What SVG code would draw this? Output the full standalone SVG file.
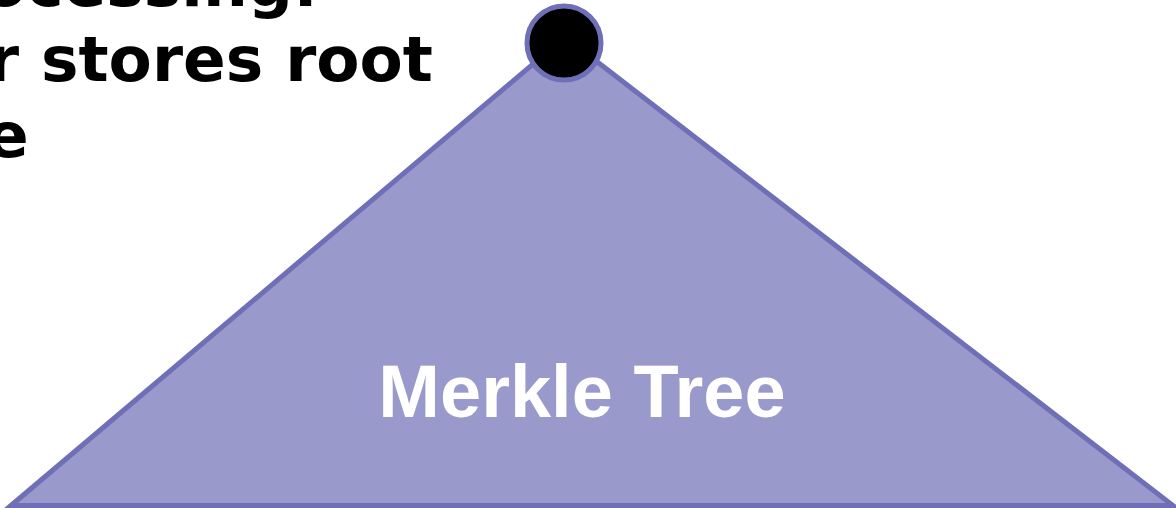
<svg xmlns="http://www.w3.org/2000/svg" width="1176" height="508" viewBox="0 0 1176 508">
<style>
.title{font-family:"DejaVu Sans",Verdana,sans-serif;font-weight:bold;font-size:63px;fill:#000}
.lbl{font-family:"Liberation Sans",Arial,sans-serif;font-weight:bold;font-size:74px;fill:#fff}
.shape{fill:#9999cc;stroke:#6f6fb8;stroke-width:5;stroke-linejoin:miter}
</style>
<rect width="1176" height="508" fill="#fff"/>
<g id="caption">
<text class="title" x="-17" y="6">ocessing:</text>
<text class="title" x="-12" y="81">r stores root</text>
<text class="title" x="-14" y="157">e</text>
</g>
<g id="tree">
<polygon class="shape" points="11,505.5 565,37 1173,505.5"/>
<text class="lbl" x="582" y="417" text-anchor="middle">Merkle Tree</text>
</g>
<g id="root">
<circle cx="564" cy="43" r="37" fill="#000" stroke="#6f6fb8" stroke-width="5"/>
</g>
<g id="connectors"></g>
</svg>
